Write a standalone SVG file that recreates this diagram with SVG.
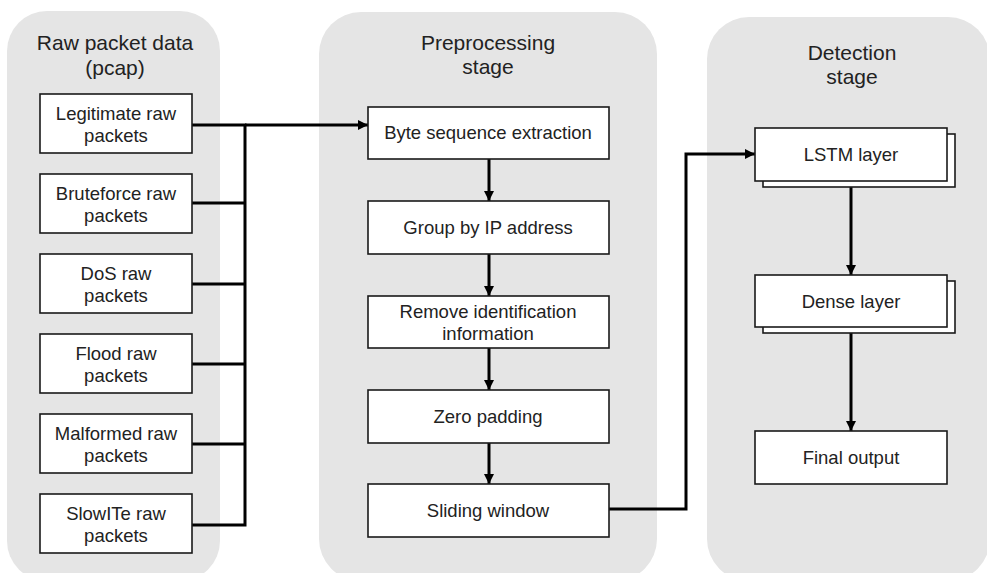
<svg xmlns="http://www.w3.org/2000/svg" width="987" height="573" viewBox="0 0 987 573">
<defs>
<style>
.panel{fill:#e5e5e5;stroke:none}
.box{fill:#ffffff;stroke:#1a1a1a;stroke-width:1.6}
.t{font-family:"Liberation Sans",Arial,sans-serif;font-size:18.5px;fill:#222;text-anchor:middle}
.h{font-family:"Liberation Sans",Arial,sans-serif;font-size:21px;fill:#222;text-anchor:middle}
.c{fill:none;stroke:#000;stroke-width:3;stroke-linejoin:miter}
</style>
<marker id="ah" markerWidth="10" markerHeight="10" viewBox="0 0 10 10" refX="10" refY="5" orient="auto" markerUnits="userSpaceOnUse">
<path d="M0,0 L10,5 L0,10 Z" fill="#000"/>
</marker>
</defs>
<rect width="987" height="573" fill="#ffffff"/>
<g id="panel-raw">
<rect class="panel" x="7" y="11" width="213" height="570" rx="40"/>
<text class="h" x="115" y="50">Raw packet data</text>
<text class="h" x="115" y="75">(pcap)</text>
</g>
<g id="panel-pre">
<rect class="panel" x="319" y="12" width="338" height="569" rx="42"/>
<text class="h" x="488" y="50">Preprocessing</text>
<text class="h" x="488" y="74">stage</text>
</g>
<g id="panel-det">
<rect class="panel" x="707" y="17" width="283" height="564" rx="42"/>
<text class="h" x="852" y="60">Detection</text>
<text class="h" x="852" y="84">stage</text>
</g>
<g id="connectors">
<polyline class="c" points="192,125 245,125 245,525 192,525"/>
<line class="c" x1="192" y1="203" x2="245" y2="203"/>
<line class="c" x1="192" y1="284" x2="245" y2="284"/>
<line class="c" x1="192" y1="364" x2="245" y2="364"/>
<line class="c" x1="192" y1="444" x2="245" y2="444"/>
<line class="c" x1="245" y1="125" x2="368" y2="125" marker-end="url(#ah)"/>
<line class="c" x1="489" y1="159" x2="489" y2="201" marker-end="url(#ah)"/>
<line class="c" x1="489" y1="254" x2="489" y2="296" marker-end="url(#ah)"/>
<line class="c" x1="489" y1="348" x2="489" y2="390" marker-end="url(#ah)"/>
<line class="c" x1="489" y1="443" x2="489" y2="484" marker-end="url(#ah)"/>
<polyline class="c" points="609,509 686,509 686,154 755,154" marker-end="url(#ah)"/>
<line class="c" x1="851" y1="181" x2="851" y2="275" marker-end="url(#ah)"/>
<line class="c" x1="851" y1="327" x2="851" y2="431" marker-end="url(#ah)"/>
</g>
<g id="n-legit"><rect class="box" x="40" y="94" width="152" height="59"/><text class="t" x="116" y="120">Legitimate raw</text><text class="t" x="116" y="142">packets</text></g>
<g id="n-brute"><rect class="box" x="40" y="174" width="152" height="59"/><text class="t" x="116" y="200">Bruteforce raw</text><text class="t" x="116" y="222">packets</text></g>
<g id="n-dos"><rect class="box" x="40" y="254" width="152" height="59"/><text class="t" x="116" y="280">DoS raw</text><text class="t" x="116" y="302">packets</text></g>
<g id="n-flood"><rect class="box" x="40" y="334" width="152" height="59"/><text class="t" x="116" y="360">Flood raw</text><text class="t" x="116" y="382">packets</text></g>
<g id="n-malformed"><rect class="box" x="40" y="414" width="152" height="59"/><text class="t" x="116" y="440">Malformed raw</text><text class="t" x="116" y="462">packets</text></g>
<g id="n-slowite"><rect class="box" x="40" y="494" width="152" height="59"/><text class="t" x="116" y="520">SlowITe raw</text><text class="t" x="116" y="542">packets</text></g>
<g id="n-byte"><rect class="box" x="368" y="107" width="241" height="52"/><text class="t" x="488" y="139">Byte sequence extraction</text></g>
<g id="n-group"><rect class="box" x="368" y="201" width="241" height="53"/><text class="t" x="488" y="234">Group by IP address</text></g>
<g id="n-remove"><rect class="box" x="368" y="296" width="241" height="52"/><text class="t" x="488" y="318">Remove identification</text><text class="t" x="488" y="340">information</text></g>
<g id="n-zero"><rect class="box" x="368" y="390" width="241" height="53"/><text class="t" x="488" y="423">Zero padding</text></g>
<g id="n-sliding"><rect class="box" x="368" y="484" width="241" height="53"/><text class="t" x="488" y="517">Sliding window</text></g>
<g id="n-lstm"><rect class="box" x="763" y="134" width="192" height="53"/><rect class="box" x="755" y="128" width="192" height="53"/><text class="t" x="851" y="161">LSTM layer</text></g>
<g id="n-dense"><rect class="box" x="763" y="281" width="192" height="52"/><rect class="box" x="755" y="275" width="192" height="52"/><text class="t" x="851" y="308">Dense layer</text></g>
<g id="n-final"><rect class="box" x="755" y="431" width="192" height="53"/><text class="t" x="851" y="464">Final output</text></g>
</svg>
